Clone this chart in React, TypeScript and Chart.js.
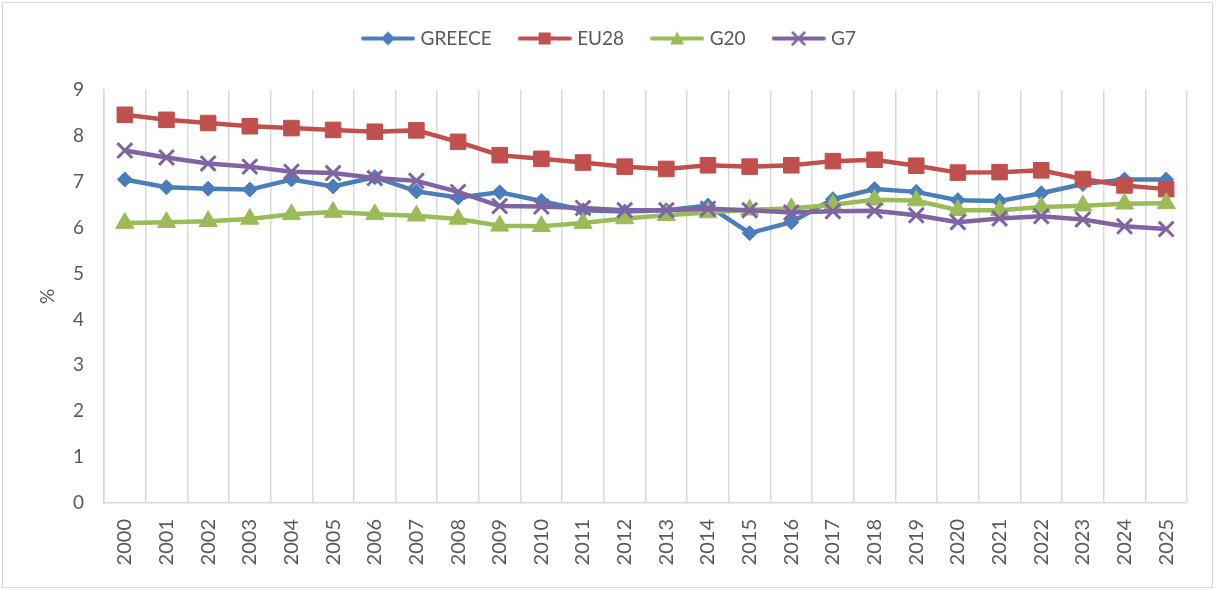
import React, { useEffect, useRef } from "react";
import { Chart, registerables } from "chart.js";

Chart.register(...registerables);

const years = ["2000","2001","2002","2003","2004","2005","2006","2007","2008","2009","2010","2011","2012","2013","2014","2015","2016","2017","2018","2019","2020","2021","2022","2023","2024","2025"];
const greece = [7.05, 6.88, 6.85, 6.83, 7.05, 6.9, 7.1, 6.79, 6.66, 6.77, 6.58, 6.38, 6.35, 6.38, 6.48, 5.88, 6.12, 6.62, 6.84, 6.78, 6.6, 6.58, 6.75, 6.95, 7.05, 7.05];
const eu28 = [8.46, 8.35, 8.28, 8.21, 8.17, 8.13, 8.09, 8.12, 7.87, 7.58, 7.5, 7.42, 7.33, 7.28, 7.36, 7.33, 7.36, 7.45, 7.48, 7.35, 7.2, 7.21, 7.25, 7.06, 6.92, 6.84];
const g20 = [6.1, 6.12, 6.14, 6.19, 6.29, 6.34, 6.29, 6.26, 6.19, 6.04, 6.03, 6.1, 6.2, 6.27, 6.33, 6.39, 6.42, 6.5, 6.61, 6.59, 6.38, 6.38, 6.45, 6.48, 6.52, 6.53];
const g7 = [7.68, 7.53, 7.4, 7.33, 7.22, 7.19, 7.08, 7.02, 6.78, 6.47, 6.46, 6.43, 6.38, 6.38, 6.41, 6.38, 6.33, 6.36, 6.37, 6.27, 6.12, 6.2, 6.25, 6.18, 6.03, 5.97];
const seriesNames = ["GREECE", "EU28", "G20", "G7"];
const yTicks = [0, 1, 2, 3, 4, 5, 6, 7, 8, 9];

const COLORS = ["#4A7EBB", "#C0504D", "#9BBB59", "#8064A2"];
const FONT = "Lato, 'Liberation Sans', sans-serif";
const TEXT = "#595959";

function legendIcon(kind: string, color: string): HTMLCanvasElement {
  const c = document.createElement("canvas");
  c.width = 54;
  c.height = 20;
  const ctx = c.getContext("2d")!;
  ctx.strokeStyle = color;
  ctx.fillStyle = color;
  ctx.lineWidth = 4;
  ctx.lineCap = "round";
  ctx.beginPath();
  ctx.moveTo(2, 10);
  ctx.lineTo(52, 10);
  ctx.stroke();
  const cx = 27, cy = 10;
  ctx.beginPath();
  if (kind === "diamond") {
    ctx.moveTo(cx, cy - 7); ctx.lineTo(cx + 7, cy); ctx.lineTo(cx, cy + 7); ctx.lineTo(cx - 7, cy); ctx.closePath(); ctx.fill();
  } else if (kind === "square") {
    ctx.rect(cx - 6, cy - 6, 12, 12); ctx.fill();
  } else if (kind === "triangle") {
    ctx.moveTo(cx, cy - 7); ctx.lineTo(cx + 7, cy + 6); ctx.lineTo(cx - 7, cy + 6); ctx.closePath(); ctx.fill();
  } else {
    ctx.lineWidth = 2.5;
    ctx.moveTo(cx - 6, cy - 6); ctx.lineTo(cx + 6, cy + 6);
    ctx.moveTo(cx + 6, cy - 6); ctx.lineTo(cx - 6, cy + 6);
    ctx.stroke();
  }
  return c;
}

const legendGap = {
  id: "legendGap",
  beforeInit(chart: any) {
    const lg = chart.legend;
    if (!lg) return;
    const origFit = lg.fit;
    lg.fit = function () {
      origFit.call(this);
      this.height += 29;
    };
    const origDraw = lg.draw;
    lg.draw = function () {
      const ctx = this.ctx;
      ctx.save();
      ctx.translate(17, -3);
      origDraw.call(this);
      ctx.restore();
    };
  },
};

export default function App() {
  const ref = useRef<HTMLCanvasElement>(null);
  useEffect(() => {
    const icons = [
      legendIcon("diamond", COLORS[0]),
      legendIcon("square", COLORS[1]),
      legendIcon("triangle", COLORS[2]),
      legendIcon("cross", COLORS[3]),
    ];
    const mk = (i: number, data: number[], style: string, radius: number, order: number, bw = 1) => ({
      label: seriesNames[i],
      data,
      borderColor: COLORS[i],
      backgroundColor: COLORS[i],
      borderWidth: 4.5,
      pointStyle: style,
      pointRadius: radius,
      pointHoverRadius: radius,
      pointBackgroundColor: COLORS[i],
      pointBorderColor: COLORS[i],
      pointBorderWidth: bw,
      tension: 0,
      order,
    });
    const chart = new Chart(ref.current!, {
      type: "line",
      data: {
        labels: years,
        datasets: [
          mk(0, greece, "rectRot", 7.5, 4),
          mk(1, eu28, "rect", 11, 3),
          mk(2, g20, "triangle", 10.5, 2),
          mk(3, g7, "crossRot", 10.5, 1, 3),
        ],
      },
      plugins: [legendGap],
      options: {
        animation: false,
        responsive: false,
        layout: { padding: { top: 2, right: 31, bottom: 0, left: 0 } },
        plugins: {
          tooltip: { enabled: false },
          legend: {
            position: "top",
            labels: {
              usePointStyle: true,
              pointStyleWidth: 46,
              padding: 30,
              color: TEXT,
              font: { family: FONT, size: 19 },
              generateLabels: () =>
                seriesNames.map((n, i) => ({
                  text: n,
                  datasetIndex: i,
                  pointStyle: icons[i],
                  fillStyle: COLORS[i],
                  strokeStyle: COLORS[i],
                  lineWidth: 0,
                  hidden: false,
                  fontColor: TEXT,
                })),
            },
          },
        },
        scales: {
          x: {
            offset: true,
            grid: { display: true, offset: true, color: "#D9D9D9", lineWidth: 1.5, drawTicks: false },
            border: { display: true, color: "#D9D9D9", width: 1.5 },
            ticks: {
              color: TEXT,
              font: { family: FONT, size: 20 },
              minRotation: 90,
              maxRotation: 90,
              padding: 16,
              autoSkip: false,
            },
            afterFit: (s: any) => { s.height = 87; },
          },
          y: {
            min: 0,
            max: 9,
            afterBuildTicks: (s: any) => { s.ticks = yTicks.map((v) => ({ value: v })); },
            grid: { display: false, drawTicks: false },
            border: { display: true, color: "#D9D9D9", width: 1.5 },
            ticks: { color: TEXT, font: { family: FONT, size: 19 }, padding: 20 },
            title: { display: true, text: "%", color: TEXT, font: { family: FONT, size: 19 }, padding: { top: 36, bottom: 0 } },
            afterFit: (s: any) => { s.width = 104; },
          },
        },
      },
    });
    return () => chart.destroy();
  }, []);
  return (
    <div style={{ position: "fixed", left: 0, top: 0, width: 1218, height: 590, background: "#fff" }}>
      <canvas ref={ref} width={1218} height={590} style={{ display: "block" }} />
      <div style={{ position: "absolute", left: 2, top: 2, width: 1209, height: 584, border: "1px solid #D9D9D9", pointerEvents: "none" }} />
    </div>
  );
}
